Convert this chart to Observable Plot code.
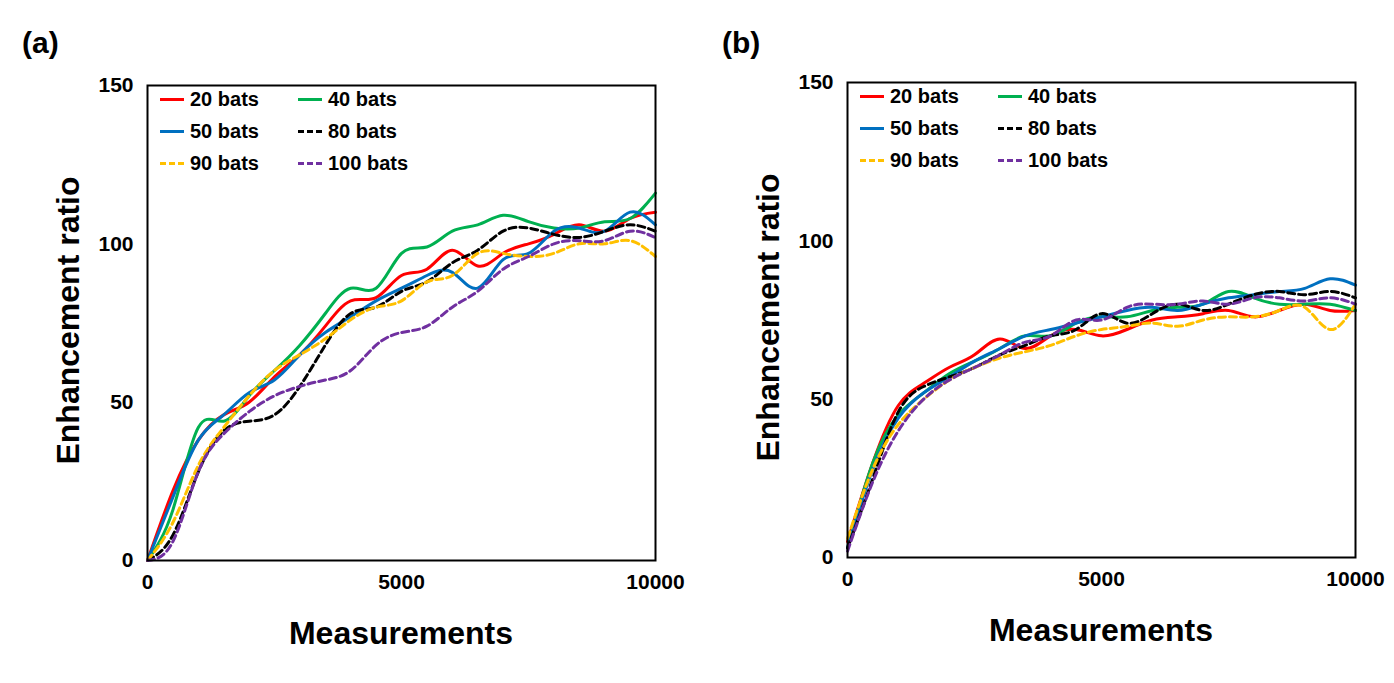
<!DOCTYPE html>
<html><head><meta charset="utf-8">
<script src="https://cdn.jsdelivr.net/npm/d3@7"></script>
<script src="https://cdn.jsdelivr.net/npm/@observablehq/plot@0.6"></script>
<style>
body{margin:0;background:#fff;font-family:"Liberation Sans",Arial,sans-serif}
#wrap{position:relative;width:1394px;height:683px}
.p{position:absolute;top:0}
.lab{position:absolute;font-weight:bold;font-size:30px}
.leg{position:absolute;font-weight:bold;font-size:20px;display:flex;align-items:center}
.leg span.l{display:inline-block;width:24px;margin-right:6px;border-top:3px solid}
</style></head><body><div id="wrap"></div>
<script>
const xs = d3.range(0, 10001, 500);
const names = ["20 bats","40 bats","50 bats","80 bats","90 bats","100 bats"];
const colors = ["#ff0000","#00b050","#0070c0","#000000","#ffc000","#7030a0"];
const dashed = [false,false,false,true,true,true];
const a20 = [0,22,38,46,50,58,65,74,82,83,90,92,98,93,97,100,103,106,104,108,110];
const a40 = [0,16,42,44,52,60,68,78,86,86,97,99,104,106,109,107,105,105,107,108,116];
const a50 = [0,20,38,46,53,57,65,72,77,82,86,90,91,86,95,97,104,105,104,110,106];
const a80 = [0,8,28,41,44,46,55,68,78,80,85,88,94,98,104,105,103,102,104,106,104];
const a90 = [0,12,30,42,52,60,65,70,76,80,82,88,90,97,97,96,97,100,100,101,96];
const a100 = [0,6,28,40,47,52,55,57,60,68,72,74,80,85,92,96,100,101,101,104,102];
const b20 = [5,30,48,55,60,64,69,66,70,72,70,72,75,76,77,78,76,78,80,78,78];
const b40 = [3,30,45,52,58,62,66,70,70,74,76,76,78,79,80,84,82,80,80,80,78];
const b50 = [3,28,44,52,57,62,66,70,72,74,76,78,79,78,80,82,83,84,85,88,86];
const b80 = [3,25,46,54,57,60,64,67,70,72,77,74,77,80,78,80,83,84,83,84,82];
const b90 = [6,28,42,50,56,60,63,65,67,70,72,73,74,73,75,76,76,78,79,72,80];
const b100 = [2,24,40,50,56,60,64,68,70,75,75,79,80,80,81,80,82,82,81,82,80];
const yTicks = [0,50,100,150], xTicks = [0,5000,10000];

function panel(series, left, top, label){
  const data = [];
  series.forEach((s,i)=>s.forEach((v,j)=>data.push({x:xs[j],y:v,k:i})));
  const svg = Plot.plot({
    width:690, height:683, marginLeft:147, marginRight:35, marginTop:top, marginBottom:683-top-475,
    style:{fontFamily:"Liberation Sans, Arial",fontSize:"21px",fontWeight:"bold",color:"#000",background:"transparent"},
    x:{domain:[0,10000],ticks:xTicks,tickFormat:d=>String(d),tickSize:0,tickPadding:14,label:null},
    y:{domain:[0,150],ticks:yTicks,tickSize:0,tickPadding:14,label:null},
    marks:[
      ...series.map((s,i)=>Plot.line(data.filter(d=>d.k===i),{x:"x",y:"y",stroke:colors[i],strokeWidth:3,curve:"natural",strokeDasharray:dashed[i]?"7,4":null})),
      Plot.frame({stroke:"#000",strokeWidth:2}),
      Plot.axisX({ticks:xTicks,tickFormat:d=>String(d),tickSize:0,tickPadding:14,label:null}),
      Plot.axisY({ticks:yTicks,tickSize:0,tickPadding:14,label:null})
    ]
  });
  svg.classList.add("p"); svg.style.left=left+"px";
  const w=document.getElementById("wrap"); w.appendChild(svg);
  const t=(txt,css)=>{const d=document.createElement("div");d.className="lab";d.textContent=txt;Object.assign(d.style,css);w.appendChild(d);};
  t(label,{left:(left+22)+"px",top:"26px"});
  t("Measurements",{left:(left+147)+"px",width:"508px",textAlign:"center",top:(top+475+55)+"px",fontSize:"32px"});
  t("Enhancement ratio",{left:(left+68-200)+"px",width:"400px",textAlign:"center",top:(top+237-20)+"px",fontSize:"32px",transform:"rotate(-90deg)"});
  names.forEach((n,i)=>{
    const d=document.createElement("div");d.className="leg";
    d.style.left=(left+160+(i%2)*138)+"px";d.style.top=(top+3+Math.floor(i/2)*32)+"px";
    d.innerHTML=`<span class="l" style="border-top-color:${colors[i]};border-top-style:${dashed[i]?"dashed":"solid"}"></span>${n}`;
    w.appendChild(d);
  });
}
panel([a20,a40,a50,a80,a90,a100],0,85,"(a)");
panel([b20,b40,b50,b80,b90,b100],700,82,"(b)");
</script></body></html>
